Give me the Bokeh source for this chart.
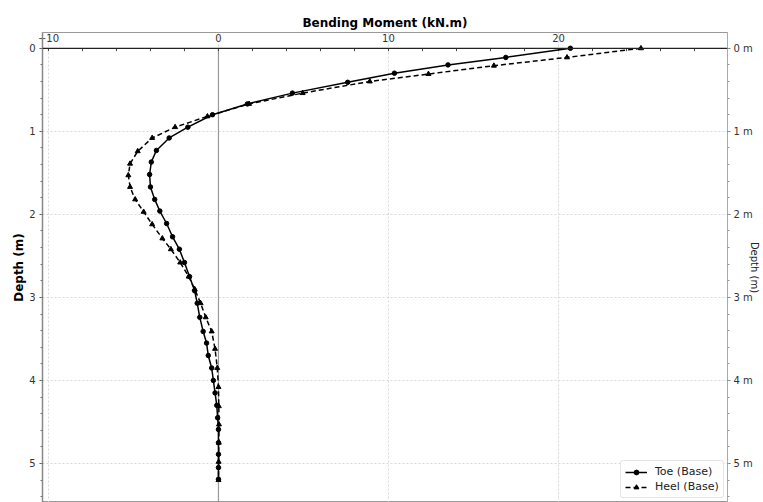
import numpy as np
from bokeh.plotting import figure
from bokeh.models import (Range1d, LinearAxis, Span, Legend, LegendItem,
                          ColumnDataSource, FixedTicker, CustomJSTickFormatter)
from bokeh.embed import file_html
from bokeh.resources import INLINE

# Bending moment profiles along the wall (depth in m, moment in kN.m)
toe_depth = [0.00, 0.11, 0.20, 0.30, 0.41, 0.54, 0.67, 0.80, 0.95, 1.08,
             1.23, 1.37, 1.52, 1.67, 1.82, 1.96, 2.11, 2.27, 2.42, 2.58,
             2.75, 2.92, 3.07, 3.24, 3.41, 3.55, 3.70, 3.85, 4.00, 4.15,
             4.30, 4.45, 4.59, 4.75, 4.89, 5.05, 5.19]
toe_moment = [20.7, 16.9, 13.5, 10.35, 7.6, 4.35, 1.7, -0.35, -1.8, -2.9,
              -3.65, -3.95, -4.05, -4.0, -3.75, -3.45, -3.05, -2.7, -2.3, -2.0,
              -1.7, -1.4, -1.25, -1.1, -0.9, -0.7, -0.6, -0.4, -0.3, -0.2,
              -0.1, -0.05, 0.0, 0.0, 0.0, 0.0, 0.0]

heel_depth = [0.00, 0.11, 0.21, 0.31, 0.40, 0.54, 0.67, 0.82, 0.95, 1.08,
              1.24, 1.39, 1.53, 1.67, 1.82, 1.97, 2.12, 2.29, 2.42, 2.58,
              2.75, 2.90, 3.07, 3.24, 3.41, 3.62, 3.85, 4.08, 4.31, 4.53,
              4.75, 4.98, 5.20]
heel_moment = [24.85, 20.5, 16.2, 12.35, 8.9, 4.95, 1.8, -0.65, -2.55, -3.9,
               -4.75, -5.2, -5.3, -5.2, -4.9, -4.4, -3.9, -3.3, -2.8, -2.25,
               -1.75, -1.4, -1.05, -0.75, -0.4, -0.2, -0.07, 0.0, 0.02, 0.03,
               0.02, 0.01, 0.0]

x_ticks = [-10, 0, 10, 20]
depth_ticks = [0, 1, 2, 3, 4, 5]
depth_minor = [round(v, 1) for v in np.arange(0, 5.6, 0.2)]

FONT = "DejaVu Sans"

p = figure(width=763, height=502, output_backend="svg", toolbar_location=None,
           x_range=Range1d(-10.35, 29.94), y_range=Range1d(5.47, -0.19),
           x_axis_location="above",
           min_border_left=42, min_border_right=36, min_border_top=32,
           min_border_bottom=0)

p.title.text = "Bending Moment (kN.m)"
p.title.align = "center"
p.title.text_font = FONT
p.title.text_font_size = "12px"
p.title.text_font_style = "bold"
p.title.text_color = "black"
p.title.offset = 0
p.title.standoff = 2

p.outline_line_color = "#999999"
p.outline_line_width = 1

# top axis: labels sit just inside the frame
xa = p.xaxis[0]
xa.ticker = FixedTicker(ticks=x_ticks)
xa.axis_line_color = None
xa.major_tick_line_color = None
xa.minor_tick_line_color = None
xa.major_label_standoff = -15
xa.major_label_text_font = FONT
xa.major_label_text_font_size = "10px"
xa.major_label_text_color = "#333333"

# left depth axis
ya = p.yaxis[0]
ya.ticker = FixedTicker(ticks=depth_ticks, minor_ticks=depth_minor)
ya.axis_label = "Depth (m)"
ya.axis_label_text_font = FONT
ya.axis_label_text_font_size = "12px"
ya.axis_label_text_font_style = "bold"
ya.axis_label_text_color = "black"
ya.axis_label_standoff = 0
ya.axis_line_color = "#888888"
ya.axis_line_width = 1.5
ya.major_tick_out = 3
ya.major_tick_in = 0
ya.minor_tick_out = 2
ya.minor_tick_in = 0
ya.major_tick_line_color = "#555555"
ya.minor_tick_line_color = "#777777"
ya.major_label_standoff = 4
ya.major_label_text_font = FONT
ya.major_label_text_font_size = "10px"
ya.major_label_text_color = "#333333"

# right depth axis with metre units
ra = LinearAxis(ticker=FixedTicker(ticks=depth_ticks, minor_ticks=depth_minor),
                formatter=CustomJSTickFormatter(code="return tick.toFixed(0) + ' m';"),
                axis_label="Depth (m)")
ra.axis_label_text_font = FONT
ra.axis_label_text_font_size = "10px"
ra.axis_label_text_font_style = "normal"
ra.axis_label_text_color = "#222222"
ra.axis_label_standoff = -7
ra.axis_line_color = "#aaaaaa"
ra.major_tick_out = 3
ra.major_tick_in = 0
ra.minor_tick_out = 2
ra.minor_tick_in = 0
ra.major_tick_line_color = "#777777"
ra.minor_tick_line_color = "#999999"
ra.major_label_standoff = 3
ra.major_label_text_font = FONT
ra.major_label_text_font_size = "10px"
ra.major_label_text_color = "#333333"
p.add_layout(ra, "right")

# dotted grid
p.xgrid.ticker = FixedTicker(ticks=x_ticks)
p.ygrid.ticker = FixedTicker(ticks=depth_ticks)
for g in (p.xgrid[0], p.ygrid[0]):
    g.grid_line_color = "#d8d8d8"
    g.grid_line_dash = "2 2"
    g.grid_line_width = 1

# zero-moment reference line below ground surface
p.segment(x0=[0], y0=[0], x1=[0], y1=[10], line_color="#999999", line_width=1.2)

# ground surface line with small ticks
p.add_layout(Span(location=0, dimension="width", line_color="#222222", line_width=1.2))
tick_x = np.arange(-10, 30, 2).astype(float)
p.segment(x0=tick_x, y0=np.zeros(len(tick_x)), x1=tick_x,
          y1=np.full(len(tick_x), 0.035), line_color="#444444", line_width=1)

toe = ColumnDataSource(dict(x=toe_moment, y=toe_depth))
heel = ColumnDataSource(dict(x=heel_moment, y=heel_depth))

t_line = p.line("x", "y", source=toe, line_color="black", line_width=1.5)
t_pts = p.scatter("x", "y", source=toe, marker="circle", size=4.5,
                  fill_color="black", line_color="black")
h_line = p.line("x", "y", source=heel, line_color="black", line_width=1.5,
                line_dash="5 3")
h_pts = p.scatter("x", "y", source=heel, marker="triangle", size=5,
                  fill_color="black", line_color="black")

legend = Legend(items=[LegendItem(label="Toe (Base)", renderers=[t_line, t_pts]),
                       LegendItem(label="Heel (Base)", renderers=[h_line, h_pts])],
                location=(578, 4))
legend.label_text_font = FONT
legend.label_text_font_size = "11px"
legend.label_text_color = "#222222"
legend.border_line_color = "#cccccc"
legend.border_line_width = 1
legend.border_radius = 3
legend.background_fill_color = "white"
legend.background_fill_alpha = 0.9
legend.glyph_width = 22
legend.glyph_height = 12
legend.label_height = 12
legend.spacing = 2
legend.padding = 4
legend.margin = 0
legend.label_standoff = 8
p.add_layout(legend)

open("out.html", "w").write(file_html(p, INLINE))
